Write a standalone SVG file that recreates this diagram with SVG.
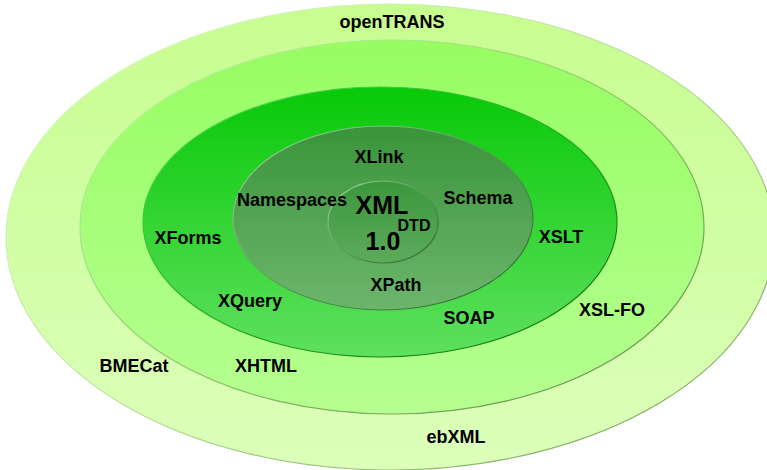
<svg xmlns="http://www.w3.org/2000/svg" width="767" height="470" viewBox="0 0 767 470">
  <defs>
    <linearGradient id="g1" x1="0" y1="0" x2="0" y2="1">
      <stop offset="0" stop-color="#c7fd90"/>
      <stop offset="1" stop-color="#dcffba"/>
    </linearGradient>
    <linearGradient id="g2" x1="0" y1="0" x2="0" y2="1">
      <stop offset="0" stop-color="#97fd62"/>
      <stop offset="1" stop-color="#b6ff92"/>
    </linearGradient>
    <linearGradient id="g3" x1="0" y1="0" x2="0" y2="1">
      <stop offset="0" stop-color="#08c908"/>
      <stop offset="1" stop-color="#5fe05f"/>
    </linearGradient>
    <linearGradient id="g4" x1="0" y1="0" x2="0" y2="1">
      <stop offset="0" stop-color="#3a943a"/>
      <stop offset="1" stop-color="#6cb66c"/>
    </linearGradient>
    <linearGradient id="g5" x1="0" y1="0" x2="0" y2="1">
      <stop offset="0" stop-color="#3c973c"/>
      <stop offset="1" stop-color="#5cab5c"/>
    </linearGradient>
    <linearGradient id="s1" x1="0" y1="0" x2="1" y2="1">
      <stop offset="0" stop-color="#e4ffcc"/>
      <stop offset="0.5" stop-color="#b8e098"/>
      <stop offset="1" stop-color="#6e9a50"/>
    </linearGradient>
    <linearGradient id="s2" x1="0" y1="0" x2="1" y2="1">
      <stop offset="0" stop-color="#c8ffaa"/>
      <stop offset="0.5" stop-color="#8ec86a"/>
      <stop offset="1" stop-color="#5a8a3e"/>
    </linearGradient>
    <linearGradient id="s3" x1="0" y1="0" x2="1" y2="1">
      <stop offset="0" stop-color="#60e060"/>
      <stop offset="0.5" stop-color="#20a820"/>
      <stop offset="1" stop-color="#0a6e0a"/>
    </linearGradient>
    <linearGradient id="s4" x1="0" y1="0" x2="1" y2="1">
      <stop offset="0" stop-color="#a8d8a8"/>
      <stop offset="0.5" stop-color="#5a9a5a"/>
      <stop offset="1" stop-color="#285e28"/>
    </linearGradient>
  </defs>
  <style>
    text { font-family: "Liberation Sans", Arial, sans-serif; font-weight: bold; font-size: 18px; fill: #000; text-anchor: middle; }
    .big { font-size: 25px; }
    .small { font-size: 16px; }
    ellipse { stroke-width: 1.2; }
  </style>
  <g id="ring-outer">
    <ellipse cx="390" cy="237" rx="384" ry="233" fill="url(#g1)" stroke="url(#s1)"/>
  </g>
  <g id="ring-2">
    <ellipse cx="392" cy="227" rx="312" ry="187" fill="url(#g2)" stroke="url(#s2)"/>
  </g>
  <g id="ring-3">
    <ellipse cx="380" cy="222" rx="237" ry="135" fill="url(#g3)" stroke="url(#s3)"/>
  </g>
  <g id="ring-4">
    <ellipse cx="383" cy="218" rx="150" ry="92" fill="url(#g4)" stroke="url(#s4)"/>
  </g>
  <g id="core">
    <ellipse cx="383" cy="222" rx="55" ry="41" fill="url(#g5)" stroke="url(#s4)"/>
  </g>
  <g id="labels">
    <text x="392" y="28">openTRANS</text>
    <text x="134" y="372">BMECat</text>
    <text x="456" y="443">ebXML</text>
    <text x="612" y="316">XSL-FO</text>
    <text x="266" y="372">XHTML</text>
    <text x="188" y="244">XForms</text>
    <text x="250" y="307">XQuery</text>
    <text x="561" y="243">XSLT</text>
    <text x="469" y="324">SOAP</text>
    <text x="379" y="163">XLink</text>
    <text x="292" y="206">Namespaces</text>
    <text x="478" y="204">Schema</text>
    <text x="396" y="291">XPath</text>
    <text class="big" x="382" y="214">XML</text>
    <text class="small" x="414" y="231">DTD</text>
    <text class="big" x="383" y="250">1.0</text>
  </g>
</svg>
